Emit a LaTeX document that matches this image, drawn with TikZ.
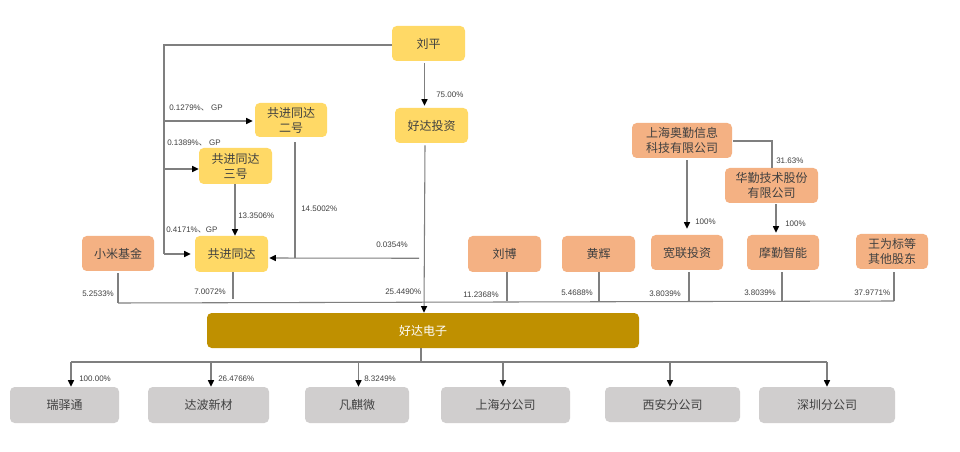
\documentclass[tikz,border=0pt]{standalone}
\usepackage{fontspec}
\setmainfont{Noto Sans CJK SC}
\newfontfamily\latfont{Liberation Sans}
\newfontfamily\cjkfont{Noto Sans CJK SC}
\usetikzlibrary{arrows.meta,calc}
\definecolor{yb}{HTML}{FFD966}
\definecolor{ob}{HTML}{F4B183}
\definecolor{gb}{HTML}{BF9000}
\definecolor{hb}{HTML}{D0CECE}
\definecolor{ln}{HTML}{7F7F7F}
\definecolor{tx}{HTML}{404040}
\tikzset{
  boxbase/.style={rounded corners=3.5pt,inner sep=0pt,align=center,text=tx,font=\fontsize{9}{11.25}\selectfont},
  yellowbox/.style={boxbase,fill=yb},
  orangebox/.style={boxbase,fill=ob},
  goldbox/.style={boxbase,fill=gb,text=white},
  greybox/.style={boxbase,fill=hb},
  pct/.style={anchor=west,inner sep=0pt,text=tx,font=\latfont\fontsize{6}{7}\selectfont},
  conn/.style={draw=ln,line width=0.8pt},
  arr/.style={conn,-{Triangle[length=5pt,width=4.6pt,color=black]}}
}
\newcommand{\bx}[7]{%
  \node[#6,minimum width={(#4-#2)*0.75pt},minimum height={(#5-#3)*0.75pt}] (#1) at ({(#2+#4)/2},{(#3+#5)/2}) {#7};}
\begin{document}
\begin{tikzpicture}[x=0.75pt,y=-0.75pt]
\useasboundingbox (0,0) rectangle (960,452);
\fill[white] (0,0) rectangle (960,452);
% top / yellow
\bx{lp}{392}{26}{465}{61}{yellowbox}{刘平}
\bx{hdtz}{395}{108}{468}{143}{yellowbox}{好达投资}
\bx{gj2}{255}{103}{327}{137}{yellowbox}{共进同达\\二号}
\bx{gj3}{199}{148}{272}{184}{yellowbox}{共进同达\\三号}
\bx{gj}{195}{236}{268}{272}{yellowbox}{共进同达}
% orange
\bx{xm}{82}{236}{154}{271}{orangebox}{小米基金}
\bx{aq}{632}{123}{732}{158}{orangebox}{上海奥勤信息\\科技有限公司}
\bx{hq}{725}{168}{818}{203}{orangebox}{华勤技术股份\\有限公司}
\bx{lb}{468}{236}{541}{272}{orangebox}{刘博}
\bx{hh}{562}{236}{635}{272}{orangebox}{黄辉}
\bx{kl}{651}{235}{723}{270}{orangebox}{宽联投资}
\bx{mq}{747}{235}{819}{270}{orangebox}{摩勤智能}
\bx{ww}{856}{234}{928}{269}{orangebox}{王为标等\\其他股东}
% gold
\bx{hd}{207}{313}{639}{348}{goldbox}{好达电子}
% grey
\bx{rst}{10}{387}{119}{423}{greybox}{瑞驿通}
\bx{db}{148}{387}{269}{423}{greybox}{达波新材}
\bx{fq}{305}{387}{409}{423}{greybox}{凡麒微}
\bx{sh}{441}{387}{570}{423}{greybox}{上海分公司}
\bx{xa}{605}{387}{740}{422}{greybox}{西安分公司}
\bx{sz}{759}{387}{895}{423}{greybox}{深圳分公司}
% junctions
\coordinate (trunkT) at (164,45);
\coordinate (trunkB) at (164,254);
\coordinate (busL) at (118,303);
\coordinate (busR) at (894,301);
\coordinate (dist) at (421,362);
\coordinate (distL) at (71,362);
\coordinate (distR) at (827,362);
% Liu Ping trunk
\draw[conn] ($(lp.west)+(0,1.5)$) -- (trunkT) -- (trunkB);
\draw[arr] (trunkB) -- ($(gj.west)+(-4,0)$);
\draw[arr] (164,121) -- ($(gj2.west)+(-2,1)$);
\draw[arr] (164,169) -- ($(gj3.west)+(0,3)$);
\draw[arr] ($(lp.south)+(-4,2)$) -- ($(hdtz.north)+(-7,-2)$);
% into Gongjin
\draw[arr] ($(gj3.south)+(-0.5,0)$) -- ($(gj.north)+(3.5,0)$);
\coordinate (m2) at ($(gj2.south)+(4,5)$);
\coordinate (m3) at (m2 |- 0,258);
\draw[conn] (m2) -- (m3);
\draw[arr] ($(hdtz.south)+(-12.5,115)$) -- ($(gj.east)+(1,4)$);
% Haoda investment to Haoda electronics
\draw[arr] ($(hdtz.south)+(-6.5,2)$) -- ($(hd.north)+(1,0)$);
% shareholder bus
\draw[conn] (busL) -- (busR);
\draw[conn] ($(xm.south)+(0,2)$) -- (busL);
\draw[conn] ($(gj.south)+(1.5,0)$) -- ($(gj.south)+(1.5,27)$);
\draw[conn] ($(lb.south)+(2.5,0)$) -- ($(lb.south)+(2.5,29)$);
\draw[conn] ($(hh.south)+(0.5,0)$) -- ($(hh.south)+(0.5,29)$);
\draw[conn] ($(kl.south)+(2,2)$) -- ($(kl.south)+(2,31)$);
\draw[conn] ($(mq.south)+(-1,2)$) -- ($(mq.south)+(-1,31)$);
\draw[conn] ($(ww.south)+(2,3)$) -- (busR);
% Aoqin branch
\draw[arr] ($(aq.south)+(5,2)$) -- ($(kl.north)+(0,-6)$);
\draw[conn] ($(aq.east)+(1,0.5)$) -| ($(hq.north)+(0.5,0)$);
\draw[arr] ($(hq.south)+(4.5,1)$) -- ($(mq.north)+(-7,-2)$);
% subsidiaries
\draw[conn] (hd.south -| dist) -- (dist);
\draw[conn] (distL) -- (distR);
\draw[arr] (distL) -- (rst.north -| distL);
\draw[arr] (db.north -| 211,0) ++(0,-25) -- (db.north -| 211,0);
\draw[arr] (fq.north -| 358.5,0) ++(0,-25) -- (fq.north -| 358.5,0);
\draw[arr] (sh.north -| 503,0) ++(0,-25) -- (sh.north -| 503,0);
\draw[arr] (xa.north -| 670,0) ++(0,-25) -- (xa.north -| 670,0);
\draw[arr] (distR) -- (sz.north -| distR);
% labels
\node[pct] (l1) at (169,108) {0.1279\%{\cjkfont 、} GP};
\node[pct] (l2) at (167,143) {0.1389\%{\cjkfont 、} GP};
\node[pct] (l3) at (166,230) {0.4171\%{\cjkfont 、}GP};
\node[pct] (l4) at (238,216) {13.3506\%};
\node[pct] (l5) at (301,209) {14.5002\%};
\node[pct] (l6) at (376,245) {0.0354\%};
\node[pct] (l7) at (385,292) {25.4490\%};
\node[pct] (l8) at (194,292) {7.0072\%};
\node[pct] (l9) at (82,294) {5.2533\%};
\node[pct] (l10) at (436,95) {75.00\%};
\node[pct] (l11) at (463,295) {11.2368\%};
\node[pct] (l12) at (561,293) {5.4688\%};
\node[pct] (l13) at (649,294) {3.8039\%};
\node[pct] (l14) at (744,293) {3.8039\%};
\node[pct] (l15) at (854,293) {37.9771\%};
\node[pct] (l16) at (776,161) {31.63\%};
\node[pct] (l17) at (695,222) {100\%};
\node[pct] (l18) at (785,224) {100\%};
\node[pct] (l19) at (79,379) {100.00\%};
\node[pct] (l20) at (218,379) {26.4766\%};
\node[pct] (l21) at (364,379) {8.3249\%};
\end{tikzpicture}
\end{document}
